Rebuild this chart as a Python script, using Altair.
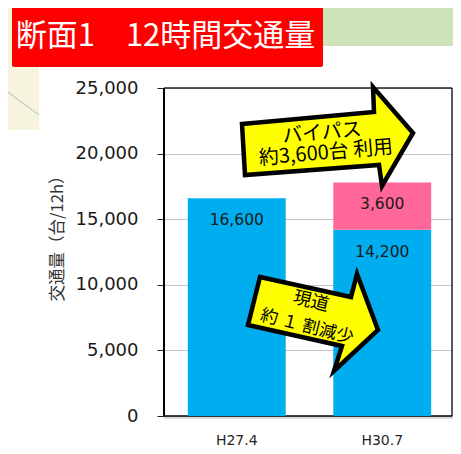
import altair as alt
import pandas as pd

categories = ["H27.4", "H30.7"]
road = [16600, 14200]
bypass = [3600]
ticks = [0, 5000, 10000, 15000, 20000, 25000]
FONT = "Noto Sans CJK JP"
LATIN = "DejaVu Sans"
OX, OY = 164 - 8, 88 - 8   # view origin inside the svg
W, H = 288, 328


def px(x):
    return x - OX - 8


def py(y):
    return y - OY - 8


bars = pd.DataFrame({"cat": categories + categories[1:],
                     "series": ["road", "road", "bypass"],
                     "v": road + bypass})
bars["top"] = [r for r in road] + [road[1] + bypass[0]]
bars["base"] = [0, 0, road[1]]
bars["txt"] = [f"{v:,}" for v in bars["v"]]

xs = alt.Scale(domain=categories, range=[0, 291], paddingInner=0.327, paddingOuter=0.1635)
ys = alt.Scale(domain=[0, 25000], nice=False)
X = alt.X("cat:N", scale=xs, sort=categories, title=None,
          axis=alt.Axis(labelAngle=0, labelFont=LATIN, labelFontSize=14, labelColor="#262626",
                        ticks=False, domain=False, labelPadding=17))
Y = alt.Y("base:Q", scale=ys, title="交通量（台/12h）",
          axis=alt.Axis(values=ticks, format=",.0f", labelFont=LATIN, labelFontSize=18, labelColor="#1a1a1a",
                        titleFont=FONT, titleFontSize=16.5, titleFontWeight="normal", titleColor="#333333",
                        titleX=px(65), titleY=py(234), tickColor="#222222", tickSize=7, domain=False,
                        gridColor="#c4c4c4", grid=True, labelPadding=19))


def box(x0, y0, x1, y1, color, **kw):
    d = pd.DataFrame({"k": [0]})
    return alt.Chart(d).mark_rect(color=color, clip=False, **kw).encode(
        x=alt.value(px(x0)), x2=alt.value(px(x1)), y=alt.value(py(y0)), y2=alt.value(py(y1)))


def seg(x0, y0, x1, y1, color, w):
    d = pd.DataFrame({"k": [0]})
    return alt.Chart(d).mark_rule(color=color, strokeWidth=w, clip=False).encode(
        x=alt.value(px(x0)), x2=alt.value(px(x1)), y=alt.value(py(y0)), y2=alt.value(py(y1)))


def note(s, x, y, size, angle=0, color="black"):
    d = pd.DataFrame({"t": [s]})
    return alt.Chart(d).mark_text(font=FONT, fontSize=size, angle=angle % 360, color=color, clip=False,
                                  align="center", baseline="middle").encode(
        text="t:N", x=alt.value(px(x)), y=alt.value(py(y)))


def arrow(points):
    # outline in page pixels, turned into a custom symbol path centred on (cx, cy)
    xs_ = [p[0] for p in points]
    ys_ = [p[1] for p in points]
    cx, cy = (min(xs_) + max(xs_)) / 2, (min(ys_) + max(ys_)) / 2
    half = max(max(xs_) - min(xs_), max(ys_) - min(ys_)) / 2
    path = "M" + "L".join(f"{(p[0]-cx)/half:.4f},{(p[1]-cy)/half:.4f}" for p in points) + "Z"
    d = pd.DataFrame({"k": [0]})
    return alt.Chart(d).mark_point(shape=path, filled=True, fill="#ffff00", stroke="black", strokeWidth=4.5,
                                   strokeJoin="miter", strokeMiterLimit=10, opacity=1, size=4 * half ** 2,
                                   clip=False).encode(x=alt.value(px(cx)), y=alt.value(py(cy)))


base = alt.Chart(bars).encode(x=X, y=Y, y2="top:Q",
                              color=alt.Color("series:N", legend=None,
                                              scale=alt.Scale(domain=["road", "bypass"],
                                                              range=["#00aeef", "#ff6699"])))
bar_layer = base.mark_bar(stroke=None)

text_layer = alt.Chart(bars).mark_text(font=LATIN, fontSize=15.5, color="#1a1a1a", dy=22).encode(
    x=alt.X("cat:N", scale=xs, sort=categories), y=alt.Y("top:Q", scale=ys), text="txt:N")

arrow1 = arrow([(242, 124), (374, 112), (373, 87), (413, 133), (382, 186), (379, 165), (245, 175)])
arrow2 = arrow([(260, 277), (351, 297), (357, 274), (378, 330), (334, 371), (342, 346), (248, 325)])

edge = "#222222"
chart = alt.layer(
    box(8, 8, 285, 46, "#f6f4dc"),
    box(8, 8, 39, 130, "#f6f4dc"),
    box(285, 8, 453, 46, "#cfe3b8"),
    seg(8, 92, 39, 115, "#cfcfc8", 1.5),
    box(12, 6, 323, 67, "#ff0000", cornerRadius=2),
    note("断面1　12時間交通量", 165.5, 37, 31, color="white"),
    seg(164, 418, 453, 418, "#d0d0d0", 1.5),
    seg(164, 88, 452, 88, edge, 1.5),
    seg(452, 88, 452, 416, edge, 1.5),
    seg(164, 88, 164, 416, "black", 2),
    seg(164, 416, 452, 416, "black", 1.5),
    bar_layer, text_layer,
    arrow1, note("バイパス", 322, 133, 20, -5), note("約3,600台 利用", 326, 153, 20, -5),
    arrow2, note("現道", 311, 302, 18, 14), note("約 １ 割減少", 307, 327, 17.5, 14),
).properties(width=W, height=H,
             padding={"left": OX, "top": OY, "right": 445 - W - OX, "bottom": 438 - H - OY},
             autosize=alt.AutoSizeParams(type="none")).configure_view(stroke=None)

chart.save("out.html", embed_options={"renderer": "svg", "actions": False})
